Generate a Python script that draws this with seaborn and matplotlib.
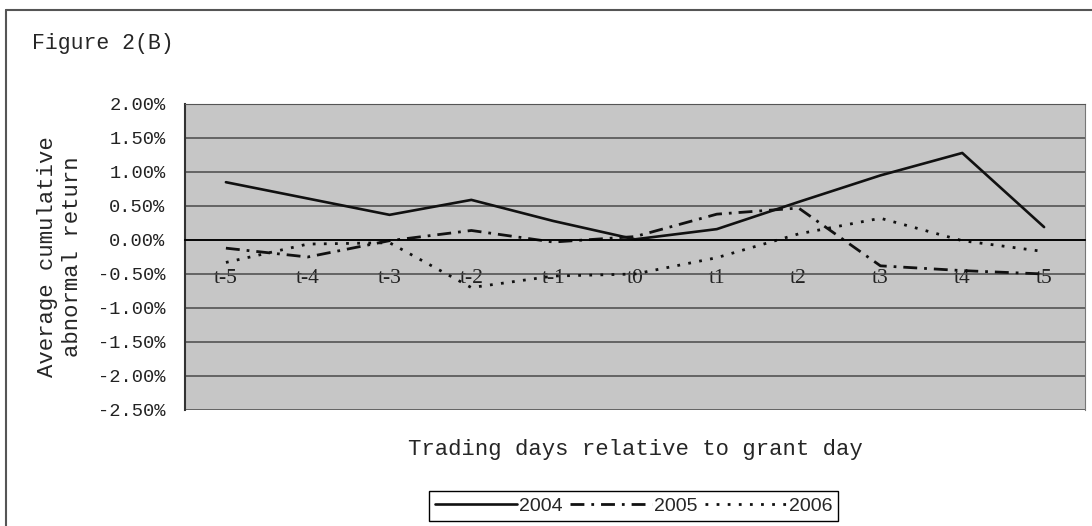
import matplotlib
matplotlib.use("Agg")
import matplotlib.pyplot as plt
import matplotlib.lines as mlines
from matplotlib.ticker import FuncFormatter
import seaborn as sns

# event window and average CAR (%) per grant year
days = ["t-5", "t-4", "t-3", "t-2", "t-1", "t0", "t1", "t2", "t3", "t4", "t5"]
car_2004 = [0.85, 0.61, 0.37, 0.59, 0.28, 0.01, 0.16, 0.56, 0.95, 1.28, 0.19]
car_2005 = [-0.12, -0.25, -0.01, 0.14, -0.03, 0.05, 0.38, 0.47, -0.38, -0.45, -0.50]
car_2006 = [-0.33, -0.06, -0.04, -0.70, -0.53, -0.50, -0.26, 0.09, 0.32, -0.01, -0.17]
y_ticks = [2.0, 1.5, 1.0, 0.5, 0.0, -0.5, -1.0, -1.5, -2.0, -2.5]

sns.set_style("white")
plt.rcParams["font.family"] = ["Liberation Mono", "DejaVu Sans"]

W, H = 1092, 526
fig = plt.figure(figsize=(W / 100, H / 100), dpi=100)
ax = fig.add_axes([185 / W, 1 - 410 / H, 900 / W, 306 / H])
ax.set_facecolor("#c6c6c6")

sns.lineplot(x=days, y=car_2004, ax=ax, sort=False, color="#111111",
             linewidth=1.9, linestyle="-", label="2004")
sns.lineplot(x=days, y=car_2005, ax=ax, sort=False, color="#111111",
             linewidth=2, linestyle=(0, (5, 2.5, 1, 2.5)), label="2005")
sns.lineplot(x=days, y=car_2006, ax=ax, sort=False, color="#111111",
             linewidth=2, linestyle=(0, (1, 3)), label="2006")

ax.set_xlim(-0.5, len(days) - 0.5)
ax.set_ylim(-2.5, 2.0)
ax.set_yticks(y_ticks)
ax.yaxis.set_major_formatter(FuncFormatter(lambda v, _: f"{v:.2f}%"))
ax.grid(axis="y", color="#4a4a4a", linewidth=1.1)
ax.grid(axis="x", visible=False)
ax.set_axisbelow(True)

# category axis crosses at zero, like the spreadsheet original
ax.spines["bottom"].set_position(("data", 0))
ax.spines["bottom"].set_color("black")
ax.spines["bottom"].set_linewidth(1.3)
ax.spines["left"].set_color("#333333")
ax.spines["left"].set_linewidth(1.5)
ax.spines["top"].set_color("#555555")
ax.spines["right"].set_color("#777777")
ax.set_xticks([i + 0.5 for i in range(len(days) - 1)], minor=True)
ax.tick_params(axis="x", which="minor", direction="in", length=4, width=1, color="black")
ax.tick_params(axis="x", which="major", length=0, pad=21, labelsize=15.5,
               labelfontfamily="Liberation Serif", labelcolor="#222222")
ax.tick_params(axis="y", length=0, pad=14, labelsize=13.5, labelcolor="#222222")

ax.set_xlabel("Trading days relative to grant day", fontsize=16)
ax.xaxis.set_label_coords(0.5, -0.095)
ax.set_ylabel("Average cumulative\nabnormal return", fontsize=16, linespacing=1.25)
ax.yaxis.set_label_coords(-0.113, 0.5)

fig.text(32 / W, 1 - 43 / H, "Figure 2(B)", fontsize=15.5, va="center")

# outer frame of the figure box
fig.add_artist(mlines.Line2D([6 / W, 1], [1 - 10 / H] * 2, transform=fig.transFigure,
                             color="#555555", linewidth=1.5))
fig.add_artist(mlines.Line2D([6 / W] * 2, [0, 1 - 10 / H], transform=fig.transFigure,
                             color="#555555", linewidth=1.5))

leg = ax.legend(loc="center", bbox_to_anchor=(633.5 / W, 1 - 506 / H),
                bbox_transform=fig.transFigure, ncol=3, frameon=True, fancybox=False,
                edgecolor="black", framealpha=1, handlelength=4.2, handletextpad=0.1,
                columnspacing=0.4, borderpad=0.3,
                prop={"family": "Liberation Sans", "size": 14})
leg.get_frame().set_linewidth(1.0)

fig.savefig("out.png", dpi=100)
